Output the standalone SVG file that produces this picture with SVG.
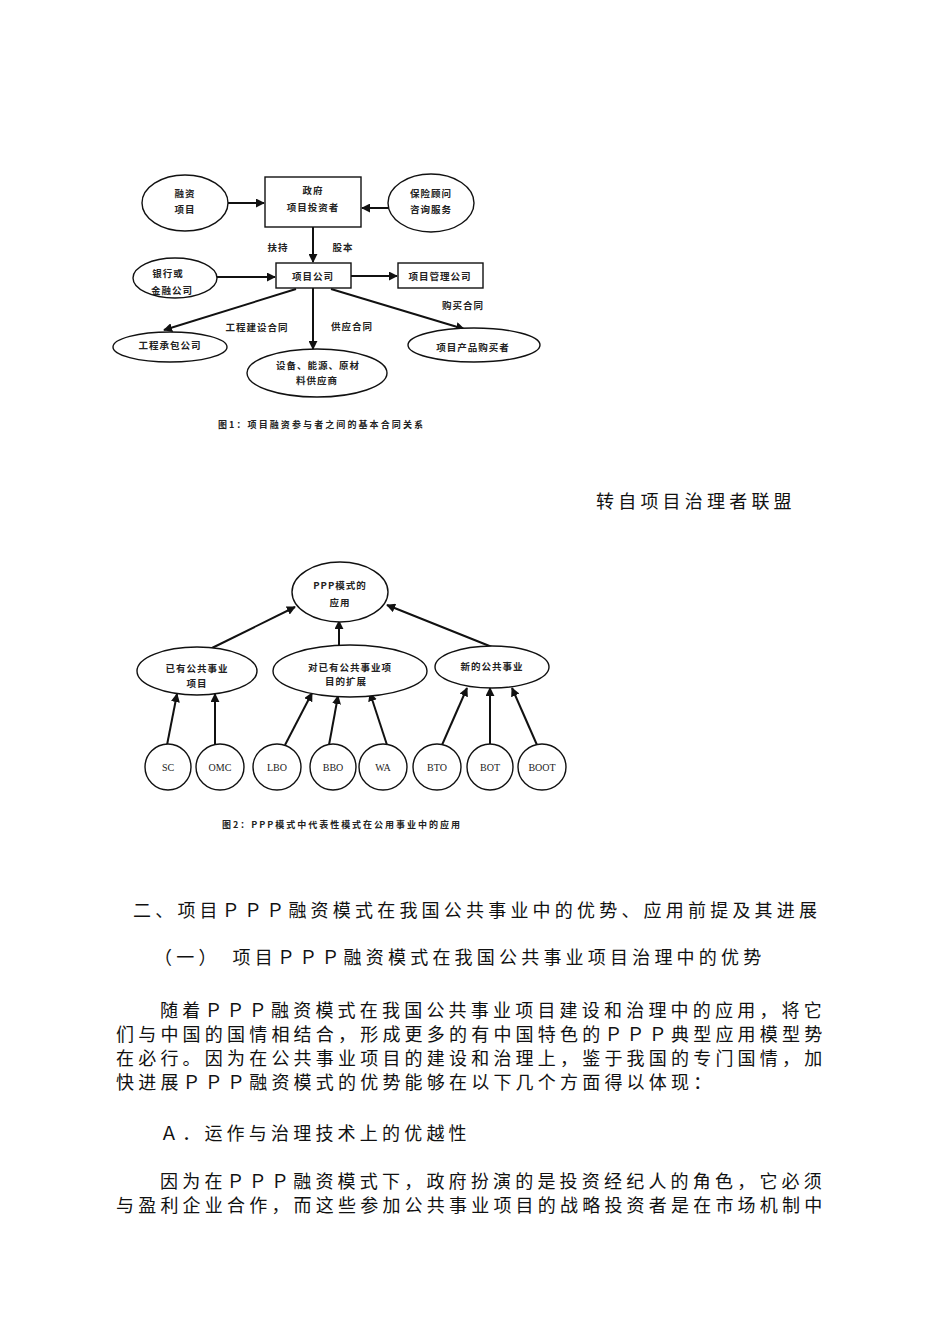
<svg xmlns="http://www.w3.org/2000/svg" width="950" height="1344" viewBox="0 0 950 1344">
<style>
.bg{fill:#ffffff}
.shape{fill:#ffffff;stroke:#111;stroke-width:1.4}
.conn{stroke:#111;stroke-width:2;fill:none}
.lbl{font-family:"Noto Sans CJK SC","Noto Sans",sans-serif;font-size:9.5px;font-weight:bold;letter-spacing:1px;fill:#222;text-anchor:middle}
.lat{font-family:"Liberation Serif","Noto Sans CJK SC",serif;font-size:10px;fill:#222;text-anchor:middle}
.cap{font-family:"Noto Sans CJK SC",sans-serif;font-size:9px;font-weight:bold;fill:#222}
.body{font-family:"Noto Sans CJK SC","Noto Sans",sans-serif;font-size:18px;letter-spacing:4.2px;fill:#111}
</style>
<defs>
<marker id="ah" viewBox="0 0 10 10" refX="9" refY="5" markerWidth="4.5" markerHeight="4.5" orient="auto" markerUnits="strokeWidth">
<path d="M0,0 L10,5 L0,10 z" fill="#111"/>
</marker>
</defs>
<rect class="bg" x="0" y="0" width="950" height="1344"/>

<!-- Diagram 1 connectors -->
<g id="connectors1">
<line class="conn" x1="228" y1="203" x2="264" y2="203" marker-end="url(#ah)"/>
<line class="conn" x1="388" y1="208" x2="362" y2="208" marker-end="url(#ah)"/>
<line class="conn" x1="313" y1="227" x2="313" y2="262" marker-end="url(#ah)"/>
<line class="conn" x1="217" y1="277" x2="275" y2="277" marker-end="url(#ah)"/>
<line class="conn" x1="351" y1="276" x2="397" y2="276" marker-end="url(#ah)"/>
<line class="conn" x1="296" y1="289" x2="164" y2="330" marker-end="url(#ah)"/>
<line class="conn" x1="313" y1="288" x2="313" y2="349" marker-end="url(#ah)"/>
<line class="conn" x1="331" y1="289" x2="464" y2="329" marker-end="url(#ah)"/>
</g>

<g id="n-rongzi"><ellipse class="shape" cx="185" cy="203" rx="43" ry="28"/><text class="lbl" x="185" y="197">融资</text><text class="lbl" x="185" y="213">项目</text></g>
<g id="n-zhengfu"><rect class="shape" x="265" y="177" width="96" height="50"/><text class="lbl" x="313" y="194">政府</text><text class="lbl" x="313" y="211">项目投资者</text></g>
<g id="n-baoxian"><ellipse class="shape" cx="431" cy="203" rx="43" ry="29"/><text class="lbl" x="431" y="197">保险顾问</text><text class="lbl" x="431" y="213">咨询服务</text></g>
<g id="n-yinhang"><ellipse class="shape" cx="175" cy="278" rx="42" ry="20"/><text class="lbl" x="168" y="277">银行或</text><text class="lbl" x="172" y="294">金融公司</text></g>
<g id="n-xiangmu"><rect class="shape" x="276" y="263" width="75" height="25"/><text class="lbl" x="313" y="280">项目公司</text></g>
<g id="n-guanli"><rect class="shape" x="398" y="263" width="85" height="25"/><text class="lbl" x="440" y="280">项目管理公司</text></g>
<g id="n-gongcheng"><ellipse class="shape" cx="170" cy="347" rx="57" ry="15"/><text class="lbl" x="170" y="349">工程承包公司</text></g>
<g id="n-shebei"><ellipse class="shape" cx="317" cy="373" rx="70" ry="24"/><text class="lbl" x="318" y="369">设备、能源、原材</text><text class="lbl" x="317" y="384">料供应商</text></g>
<g id="n-goumai"><ellipse class="shape" cx="474" cy="345" rx="66" ry="17"/><text class="lbl" x="473" y="351">项目产品购买者</text></g>
<g id="labels1">
<text class="lbl" x="278" y="251">扶持</text>
<text class="lbl" x="343" y="251">股本</text>
<text class="lbl" x="463" y="309">购买合同</text>
<text class="lbl" x="257" y="331">工程建设合同</text>
<text class="lbl" x="352" y="330">供应合同</text>
<text class="cap" x="218" y="428" textLength="205" lengthAdjust="spacing">图1：项目融资参与者之间的基本合同关系</text>
</g>

<text class="body" x="596" y="508">转自项目治理者联盟</text>

<!-- Diagram 2 connectors -->
<g id="connectors2">
<line class="conn" x1="212" y1="648" x2="295" y2="607" marker-end="url(#ah)"/>
<line class="conn" x1="339" y1="645" x2="339" y2="621" marker-end="url(#ah)"/>
<line class="conn" x1="492" y1="647" x2="387" y2="605" marker-end="url(#ah)"/>
<line class="conn" x1="167" y1="745" x2="177" y2="694" marker-end="url(#ah)"/>
<line class="conn" x1="215" y1="745" x2="215" y2="694" marker-end="url(#ah)"/>
<line class="conn" x1="285" y1="745" x2="312" y2="693" marker-end="url(#ah)"/>
<line class="conn" x1="329" y1="745" x2="338" y2="696" marker-end="url(#ah)"/>
<line class="conn" x1="387" y1="745" x2="370" y2="693" marker-end="url(#ah)"/>
<line class="conn" x1="442" y1="745" x2="467" y2="688" marker-end="url(#ah)"/>
<line class="conn" x1="490" y1="745" x2="490" y2="688" marker-end="url(#ah)"/>
<line class="conn" x1="537" y1="745" x2="512" y2="688" marker-end="url(#ah)"/>
</g>

<g id="n-ppp"><ellipse class="shape" cx="340" cy="592" rx="48" ry="30"/><text class="lbl" x="340" y="589">PPP模式的</text><text class="lbl" x="340" y="606">应用</text></g>
<g id="n-yiyou"><ellipse class="shape" cx="197" cy="671" rx="60" ry="24"/><text class="lbl" x="197" y="672">已有公共事业</text><text class="lbl" x="197" y="687">项目</text></g>
<g id="n-kuozhan"><ellipse class="shape" cx="350" cy="671" rx="77" ry="26"/><text class="lbl" x="350" y="671">对已有公共事业项</text><text class="lbl" x="346" y="685">目的扩展</text></g>
<g id="n-xin"><ellipse class="shape" cx="492" cy="667" rx="57" ry="21"/><text class="lbl" x="492" y="670">新的公共事业</text></g>
<g id="n-sc"><ellipse class="shape" cx="168" cy="767" rx="23" ry="23"/><text class="lat" x="168" y="771">SC</text></g>
<g id="n-omc"><ellipse class="shape" cx="220" cy="767" rx="24" ry="23"/><text class="lat" x="220" y="771" font-size="9">OMC</text></g>
<g id="n-lbo"><ellipse class="shape" cx="277" cy="767" rx="24" ry="23"/><text class="lat" x="277" y="771">LBO</text></g>
<g id="n-bbo"><ellipse class="shape" cx="333" cy="767" rx="23" ry="23"/><text class="lat" x="333" y="771">BBO</text></g>
<g id="n-wa"><ellipse class="shape" cx="383" cy="767" rx="24" ry="23"/><text class="lat" x="383" y="771">WA</text></g>
<g id="n-bto"><ellipse class="shape" cx="437" cy="767" rx="24" ry="23"/><text class="lat" x="437" y="771">BTO</text></g>
<g id="n-bot"><ellipse class="shape" cx="490" cy="767" rx="23" ry="23"/><text class="lat" x="490" y="771">BOT</text></g>
<g id="n-boot"><ellipse class="shape" cx="542" cy="767" rx="24" ry="23"/><text class="lat" x="542" y="771" font-size="8">BOOT</text></g>
<text class="cap" x="222" y="828" textLength="238" lengthAdjust="spacing">图2：PPP模式中代表性模式在公用事业中的应用</text>

<g id="text">
<text class="body" x="133" y="917">二、项目ＰＰＰ融资模式在我国公共事业中的优势、应用前提及其进展</text>
<text class="body" x="154" y="964">（一）<tspan dx="12">项目ＰＰＰ融资模式在我国公共事业项目治理中的优势</tspan></text>
<text class="body" x="160" y="1017">随着ＰＰＰ融资模式在我国公共事业项目建设和治理中的应用，将它</text>
<text class="body" x="116" y="1041">们与中国的国情相结合，形成更多的有中国特色的ＰＰＰ典型应用模型势</text>
<text class="body" x="116" y="1065">在必行。因为在公共事业项目的建设和治理上，鉴于我国的专门国情，加</text>
<text class="body" x="116" y="1089">快进展ＰＰＰ融资模式的优势能够在以下几个方面得以体现：</text>
<text class="body" x="160" y="1140">Ａ．运作与治理技术上的优越性</text>
<text class="body" x="160" y="1188">因为在ＰＰＰ融资模式下，政府扮演的是投资经纪人的角色，它必须</text>
<text class="body" x="116" y="1212">与盈利企业合作，而这些参加公共事业项目的战略投资者是在市场机制中</text>
</g>
</svg>
